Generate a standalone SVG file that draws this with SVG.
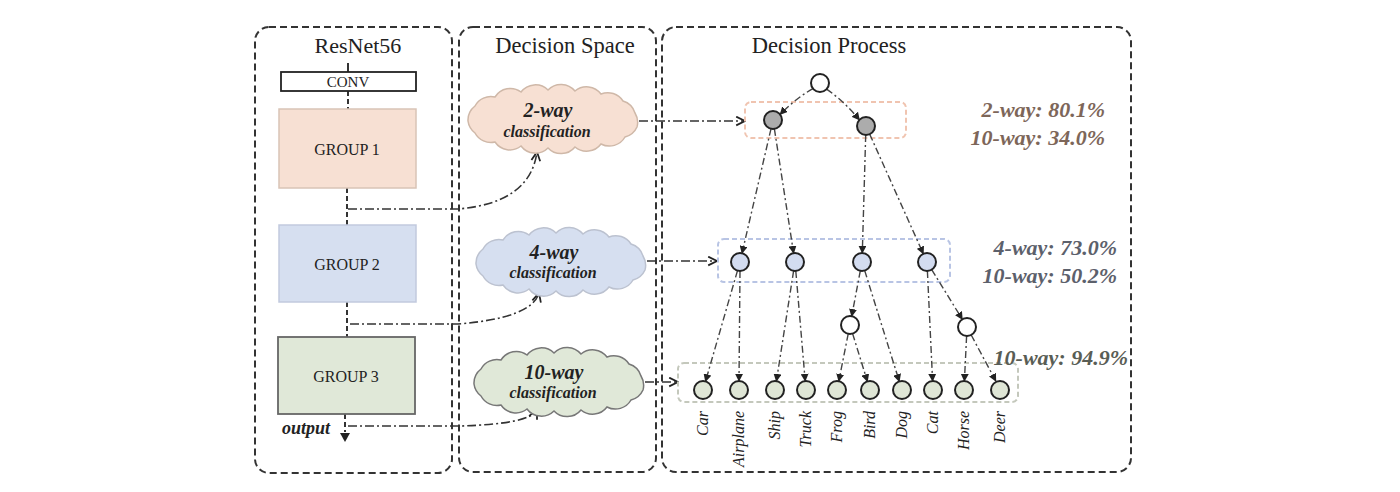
<svg xmlns="http://www.w3.org/2000/svg" width="1400" height="492" viewBox="0 0 1400 492">
<style>
.panel{fill:none;stroke:#333;stroke-width:2;stroke-dasharray:7 4}
.title{font-family:"Liberation Serif",serif;font-size:22px;fill:#222;text-anchor:middle}
.grp{font-family:"Liberation Serif",serif;font-size:16px;fill:#222;text-anchor:middle}
.ctitle{font-family:"Liberation Serif",serif;font-style:italic;font-weight:bold;font-size:20px;fill:#222;text-anchor:middle}
.csub{font-family:"Liberation Serif",serif;font-style:italic;font-weight:bold;font-size:16px;fill:#222;text-anchor:middle}
.dd{fill:none;stroke:#333;stroke-width:1.6;stroke-dasharray:9 3 2 3}
.vd{fill:none;stroke:#333;stroke-width:2;stroke-dasharray:5 3}
.edge{fill:none;stroke:#444;stroke-width:1.4;stroke-dasharray:7 3 2 3;marker-end:url(#tri)}
.node{stroke:#222;stroke-width:2}
.leaf{font-family:"Liberation Serif",serif;font-style:italic;font-size:16px;fill:#222;text-anchor:end}
.pct{font-family:"Liberation Serif",serif;font-style:italic;font-weight:bold;font-size:22px;text-anchor:end}
</style>
<defs>
<marker id="tri" viewBox="0 0 10 10" refX="9" refY="5" markerWidth="8" markerHeight="8" markerUnits="userSpaceOnUse" orient="auto"><path d="M0,0 L10,5 L0,10 z" fill="#222"/></marker>
<marker id="chev" viewBox="0 0 10 10" refX="9" refY="5" markerWidth="11" markerHeight="11" markerUnits="userSpaceOnUse" orient="auto"><path d="M1,1 L9,5 L1,9" fill="none" stroke="#222" stroke-width="1.6"/></marker>
<path id="cloud" d="M-85,2 A18,18 0 0 1 -78,-13 A18,18 0 0 1 -58,-22 A18,18 0 0 1 -32,-27 A18,18 0 0 1 -5,-29 A18,18 0 0 1 22,-28 A18,18 0 0 1 48,-25 A18,18 0 0 1 70,-18 A18,18 0 0 1 82,-6 A18,18 0 0 1 84,8 A18,18 0 0 1 72,18 A18,18 0 0 1 48,25 A18,18 0 0 1 22,28 A18,18 0 0 1 -5,29 A18,18 0 0 1 -32,27 A18,18 0 0 1 -58,23 A18,18 0 0 1 -78,14 A18,18 0 0 1 -85,2 z"/>
</defs>
<rect width="1400" height="492" fill="#fff"/>

<!-- panels -->
<g id="panel-resnet"><rect class="panel" x="255" y="27" width="197" height="446" rx="14"/><text class="title" x="358" y="53">ResNet56</text></g>
<g id="panel-space"><rect class="panel" x="459" y="27" width="197" height="445" rx="14"/><text class="title" x="565" y="53" style="font-size:22.5px">Decision Space</text></g>
<g id="panel-process"><rect class="panel" x="662" y="27" width="469" height="445" rx="14"/><text class="title" x="829" y="53" style="font-size:22.5px">Decision Process</text></g>

<!-- connectors -->
<g id="connectors">
<line x1="348" y1="63" x2="348" y2="72" stroke="#333" stroke-width="2"/>
<line class="vd" x1="348" y1="91" x2="348" y2="109"/>
<line class="vd" x1="347" y1="188" x2="347" y2="225"/>
<line class="vd" x1="347" y1="302" x2="347" y2="337"/>
<line class="vd" x1="345" y1="414" x2="345" y2="432"/>
<path d="M340,433 L350,433 L345,442 z" fill="#222"/>
<path class="dd" d="M348,209 H458 Q530,203 537,152" marker-end="url(#chev)"/>
<path class="dd" d="M350,324 H458 Q532,318 539,293" marker-end="url(#chev)"/>
<path class="dd" d="M348,426 H460 Q530,424 537,410" marker-end="url(#chev)"/>
<line class="dd" x1="639" y1="121" x2="745" y2="121" marker-end="url(#chev)"/>
<line class="dd" x1="647" y1="261" x2="717" y2="261" marker-end="url(#chev)"/>
<line class="dd" x1="645" y1="382" x2="678" y2="382" marker-end="url(#chev)"/>
<rect x="745" y="102" width="161" height="36" rx="6" fill="none" stroke="#f0c4b0" stroke-width="2" stroke-dasharray="5 3"/>
<rect x="718" y="239" width="232" height="43" rx="6" fill="none" stroke="#b8c4e4" stroke-width="2" stroke-dasharray="5 3"/>
<rect x="678" y="363" width="340" height="39" rx="6" fill="none" stroke="#c4c8bc" stroke-width="2" stroke-dasharray="5 3"/>
<path class="edge" d="M812.9,88.6 Q795,99 780.1,114.4"/>
<path class="edge" d="M826.6,89.1 Q845,102 859.4,119.9"/>
<line class="edge" x1="771" y1="128.8" x2="742" y2="253.2"/>
<line class="edge" x1="774.4" y1="128.9" x2="793.6" y2="253.1"/>
<line class="edge" x1="865.7" y1="135" x2="862.3" y2="253"/>
<line class="edge" x1="869.7" y1="134.2" x2="923.3" y2="253.8"/>
<line class="edge" x1="737.5" y1="270.6" x2="705.5" y2="381.4"/>
<line class="edge" x1="740" y1="271" x2="739" y2="381"/>
<line class="edge" x1="793.6" y1="270.9" x2="776.4" y2="381.1"/>
<line class="edge" x1="795.8" y1="271" x2="805.2" y2="381"/>
<line class="edge" x1="860.3" y1="270.8" x2="851.7" y2="316.2"/>
<line class="edge" x1="864.7" y1="270.6" x2="899.3" y2="381.4"/>
<line class="edge" x1="848.2" y1="333.8" x2="838.8" y2="381.2"/>
<line class="edge" x1="852.6" y1="333.6" x2="867.4" y2="381.4"/>
<line class="edge" x1="927.4" y1="271" x2="932.6" y2="381"/>
<line class="edge" x1="931.7" y1="269.7" x2="962.3" y2="319.3"/>
<line class="edge" x1="966.6" y1="336" x2="964.4" y2="381"/>
<line class="edge" x1="971.2" y1="335" x2="995.8" y2="381"/>
</g>

<!-- ResNet blocks -->
<g id="conv"><rect x="281" y="72" width="135" height="19" fill="#fff" stroke="#222" stroke-width="1.8"/><text class="grp" x="348" y="87" style="font-size:15px">CONV</text></g>
<g id="group1"><rect x="279" y="109" width="137" height="79" fill="#f7e0d3" stroke="#d9c4b6" stroke-width="1.5"/><text class="grp" x="347" y="155">GROUP 1</text></g>
<g id="group2"><rect x="279" y="225" width="137" height="77" fill="#d6dff0" stroke="#c2cade" stroke-width="1.5"/><text class="grp" x="347" y="270">GROUP 2</text></g>
<g id="group3"><rect x="278" y="337" width="137" height="77" fill="#e0e8d8" stroke="#666" stroke-width="1.8"/><text class="grp" x="346" y="382">GROUP 3</text></g>
<g id="output"><text x="282" y="434" font-family="Liberation Serif, serif" font-style="italic" font-weight="bold" font-size="18" fill="#222">output</text></g>

<!-- clouds -->
<g id="cloud-2way"><use href="#cloud" transform="translate(553,119)" fill="#f7e0d3" stroke="#cfb8a8" stroke-width="1.5"/><text class="ctitle" x="548" y="117">2-way</text><text class="csub" x="547" y="137">classification</text></g>
<g id="cloud-4way"><use href="#cloud" transform="translate(561,262)" fill="#d6dff0" stroke="#bcc2d0" stroke-width="1.5"/><text class="ctitle" x="554" y="259">4-way</text><text class="csub" x="553" y="278">classification</text></g>
<g id="cloud-10way"><use href="#cloud" transform="translate(559,382)" fill="#e0e8d8" stroke="#777" stroke-width="1.5"/><text class="ctitle" x="554" y="379">10-way</text><text class="csub" x="553" y="398">classification</text></g>

<!-- tree nodes -->
<g id="root"><circle class="node" cx="820" cy="83" r="9" fill="#fff"/></g>
<g id="gray-left"><circle class="node" cx="773" cy="120" r="9" fill="#acacac"/></g>
<g id="gray-right"><circle class="node" cx="866" cy="126" r="9" fill="#acacac"/></g>
<g id="blue-1"><circle class="node" cx="740" cy="262" r="9" fill="#d3dcf0"/></g>
<g id="blue-2"><circle class="node" cx="795" cy="262" r="9" fill="#d3dcf0"/></g>
<g id="blue-3"><circle class="node" cx="862" cy="262" r="9" fill="#d3dcf0"/></g>
<g id="blue-4"><circle class="node" cx="927" cy="262" r="9" fill="#d3dcf0"/></g>
<g id="white-1"><circle class="node" cx="850" cy="325" r="9" fill="#fff"/></g>
<g id="white-2"><circle class="node" cx="967" cy="327" r="9" fill="#fff"/></g>
<g id="leaf-car"><circle class="node" cx="703" cy="390" r="9" fill="#dfe6d6"/><text class="leaf" transform="translate(708,411) rotate(-90)">Car</text></g>
<g id="leaf-airplane"><circle class="node" cx="739" cy="390" r="9" fill="#dfe6d6"/><text class="leaf" transform="translate(744,411) rotate(-90)">Airplane</text></g>
<g id="leaf-ship"><circle class="node" cx="775" cy="390" r="9" fill="#dfe6d6"/><text class="leaf" transform="translate(780,411) rotate(-90)">Ship</text></g>
<g id="leaf-truck"><circle class="node" cx="806" cy="390" r="9" fill="#dfe6d6"/><text class="leaf" transform="translate(811,411) rotate(-90)">Truck</text></g>
<g id="leaf-frog"><circle class="node" cx="837" cy="390" r="9" fill="#dfe6d6"/><text class="leaf" transform="translate(842,411) rotate(-90)">Frog</text></g>
<g id="leaf-bird"><circle class="node" cx="870" cy="390" r="9" fill="#dfe6d6"/><text class="leaf" transform="translate(875,411) rotate(-90)">Bird</text></g>
<g id="leaf-dog"><circle class="node" cx="902" cy="390" r="9" fill="#dfe6d6"/><text class="leaf" transform="translate(907,411) rotate(-90)">Dog</text></g>
<g id="leaf-cat"><circle class="node" cx="933" cy="390" r="9" fill="#dfe6d6"/><text class="leaf" transform="translate(938,411) rotate(-90)">Cat</text></g>
<g id="leaf-horse"><circle class="node" cx="964" cy="390" r="9" fill="#dfe6d6"/><text class="leaf" transform="translate(969,411) rotate(-90)">Horse</text></g>
<g id="leaf-deer"><circle class="node" cx="1000" cy="390" r="9" fill="#dfe6d6"/><text class="leaf" transform="translate(1005,411) rotate(-90)">Deer</text></g>

<!-- accuracies -->
<g id="acc-level1"><text class="pct" x="1105" y="117" fill="#7d6659">2-way: 80.1%</text><text class="pct" x="1105" y="145" fill="#7d6659">10-way: 34.0%</text></g>
<g id="acc-level2"><text class="pct" x="1117" y="255" fill="#5c606b">4-way: 73.0%</text><text class="pct" x="1117" y="283" fill="#5c606b">10-way: 50.2%</text></g>
<g id="acc-level3"><text class="pct" x="1128" y="365" fill="#595d55">10-way: 94.9%</text></g>
</svg>
